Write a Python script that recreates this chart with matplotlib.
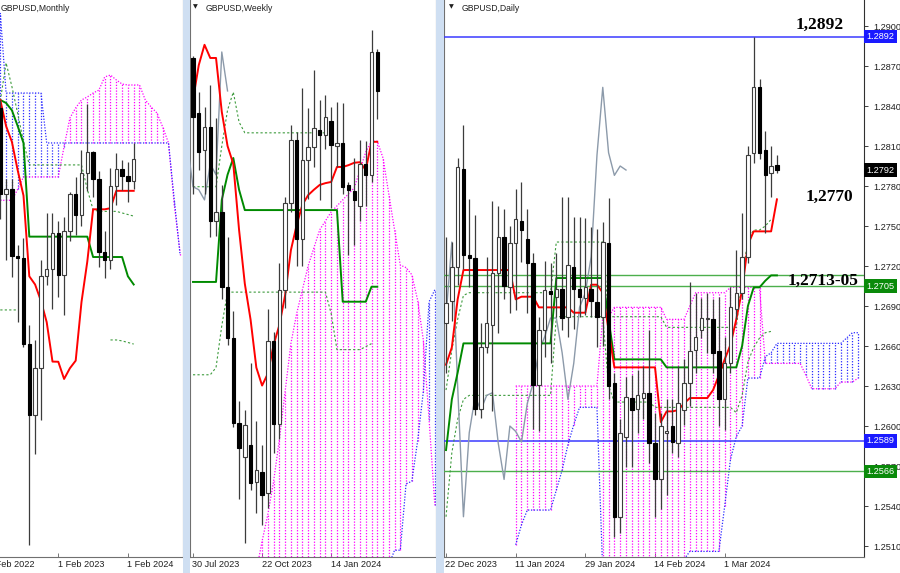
import numpy as np
import matplotlib
matplotlib.use("Agg")
import matplotlib.pyplot as plt
import matplotlib.transforms as mtransforms
from matplotlib.patches import Rectangle

nan = float("nan")
plt.rcParams['font.family'] = ['Liberation Sans', 'DejaVu Sans']

# ---------------- monthly bars: Apr 2022 .. Mar 2024 ----------------
m_open = [1.3117, 1.2573, 1.2602, 1.2177, 1.2166, 1.1623, 1.1169, 1.1468, 1.2053, 1.2097, 1.2322, 1.2055,
          1.2337, 1.2567, 1.2440, 1.2702, 1.2835, 1.2665, 1.2203, 1.2150, 1.2620, 1.2730, 1.2685, 1.2650]
m_high = [1.3167, 1.2667, 1.2666, 1.2247, 1.2293, 1.1738, 1.1645, 1.2154, 1.2447, 1.2448, 1.2402, 1.2424,
          1.2584, 1.2680, 1.2848, 1.3142, 1.2841, 1.2713, 1.2337, 1.2733, 1.2827, 1.2785, 1.2773, 1.2893]
m_low = [1.2411, 1.2155, 1.2042, 1.1760, 1.1599, 1.0350, 1.0924, 1.1142, 1.1992, 1.1841, 1.1915, 1.1803,
         1.2274, 1.2308, 1.2369, 1.2591, 1.2548, 1.2110, 1.2037, 1.2096, 1.2500, 1.2597, 1.2518, 1.2600]
m_close = [1.2573, 1.2602, 1.2177, 1.2166, 1.1623, 1.1169, 1.1468, 1.2053, 1.2097, 1.2322, 1.2055, 1.2337,
           1.2567, 1.2440, 1.2702, 1.2835, 1.2665, 1.2203, 1.2150, 1.2620, 1.2730, 1.2685, 1.2650, 1.2792]
m_tenkan = [1.3165, 1.3000, 1.2900, 1.2720, 1.2560, 1.2049, 1.1997, 1.1894, 1.1759, 1.1509, 1.1508, 1.1399,
            1.1467, 1.1515, 1.1886, 1.2142, 1.2473, 1.2473, 1.2473, 1.2480, 1.2590, 1.2590, 1.2590, 1.2590]
m_kijun = [1.3165, 1.3146, 1.3100, 1.3000, 1.2893, 1.2300, 1.2300, 1.2300, 1.2300, 1.2300, 1.2300, 1.2300,
           1.2300, 1.2300, 1.2300, 1.2300, 1.2171, 1.2171, 1.2171, 1.2171, 1.2171, 1.2171, 1.2049, 1.1997]
# cloud spans, Apr 2022 .. Nov 2024
m_span_a = [1.2530, 1.2530, 1.2530, 1.2600, 1.2678, 1.2678, 1.2678, 1.2678, 1.2678, 1.2678, 1.2678, 1.2870,
            1.3051, 1.3115, 1.3165, 1.3184, 1.3209, 1.3228, 1.3311, 1.3323, 1.3292, 1.3266, 1.3260, 1.3260,
            1.3260, 1.3165, 1.3121, 1.3083, 1.2994, 1.2893, 1.2500, 1.2200]
m_span_b = [1.3716, 1.3209, 1.3209, 1.3209, 1.3209, 1.3209, 1.3209, 1.3209, 1.2893, 1.2893, 1.2893, 1.2893,
            1.2893, 1.2893, 1.2893, 1.2893, 1.2893, 1.2893, 1.2893, 1.2893, 1.2893, 1.2893, 1.2893, 1.2893,
            1.2893, 1.2893, 1.2893, 1.2893, 1.2893, 1.2893, 1.2532, 1.2184]
m_dot_hi = [1.3160, 1.3400, 1.3250, 1.3080, 1.2900, 1.2754, 1.2754, 1.2754, 1.2754, 1.2754, 1.2754, 1.2754,
            1.2754, 1.2754, 1.2754, 1.2600, 1.2470, 1.2460, 1.2460, 1.2460, 1.2460, 1.2450, 1.2440, 1.2430]
m_dot_lo = [1.1836, 1.1836, 1.1836, 1.1836, nan, nan, nan, nan, nan, nan, nan, nan,
            nan, nan, nan, nan, nan, nan, nan, 1.1646, 1.1646, 1.1640, 1.1630, 1.1620]
m_dates = ["1 Feb 2022", "1 Feb 2023", "1 Feb 2024"]
m_date_pos = [-2, 10, 22]

# ---------------- weekly bars: 30 Jul 2023 .. 10 Mar 2024 ----------------
w_open = [1.2847, 1.2755, 1.2693, 1.2732, 1.2575, 1.2590, 1.2465, 1.2380, 1.2237, 1.2181, 1.2201, 1.2139,
          1.2156, 1.2121, 1.2375, 1.2235, 1.2460, 1.2605, 1.2710, 1.2545, 1.2677, 1.2698, 1.2727, 1.2718,
          1.2742, 1.2700, 1.2705, 1.2635, 1.2625, 1.2600, 1.2670, 1.2652, 1.2857]
w_high = [1.2850, 1.2790, 1.2765, 1.2802, 1.2746, 1.2635, 1.2548, 1.2425, 1.2275, 1.2260, 1.2337, 1.2240,
          1.2200, 1.2428, 1.2390, 1.2505, 1.2615, 1.2735, 1.2723, 1.2797, 1.2763, 1.2827, 1.2777, 1.2785,
          1.2765, 1.2773, 1.2772, 1.2640, 1.2680, 1.2710, 1.2708, 1.2893, 1.2862]
w_low = [1.2620, 1.2660, 1.2620, 1.2548, 1.2550, 1.2445, 1.2368, 1.2230, 1.2110, 1.2037, 1.2126, 1.2087,
         1.2067, 1.2096, 1.2187, 1.2210, 1.2430, 1.2590, 1.2500, 1.2500, 1.2612, 1.2665, 1.2610, 1.2695,
         1.2597, 1.2665, 1.2620, 1.2518, 1.2535, 1.2575, 1.2600, 1.2640, 1.2745]
w_close = [1.2748, 1.2690, 1.2732, 1.2575, 1.2590, 1.2465, 1.2380, 1.2237, 1.2196, 1.2234, 1.2137, 1.2159,
           1.2117, 1.2375, 1.2235, 1.2460, 1.2605, 1.2710, 1.2545, 1.2677, 1.2698, 1.2730, 1.2718, 1.2748,
           1.2702, 1.2705, 1.2632, 1.2627, 1.2610, 1.2670, 1.2652, 1.2857, 1.2792]
w_tenkan = [1.2777, 1.2835, 1.2869, 1.2847, 1.2847, 1.2757, 1.2700, 1.2670, 1.2560, 1.2470, 1.2410, 1.2330,
            1.2300, 1.2320, 1.2368, 1.2401, 1.2451, 1.2526, 1.2568, 1.2602, 1.2618, 1.2627, 1.2635, 1.2638,
            1.2640, 1.2665, 1.2665, 1.2668, 1.2672, 1.2673, 1.2660, 1.2707, 1.2707]
w_kijun = [1.2473, 1.2473, 1.2473, 1.2473, 1.2473, 1.2610, 1.2652, 1.2680, 1.2627, 1.2593, 1.2593, 1.2593,
           1.2593, 1.2593, 1.2593, 1.2593, 1.2593, 1.2593, 1.2593, 1.2593, 1.2593, 1.2593, 1.2593, 1.2593,
           1.2593, 1.2593, 1.2440, 1.2440, 1.2440, 1.2440, 1.2440, 1.2465, 1.2465]
w_span_a = [nan] * 11 + [1.1990, 1.2040, 1.2085, 1.2140, 1.2210, 1.2290, 1.2370, 1.2420, 1.2460, 1.2500,
                         1.2530, 1.2560, 1.2575, 1.2590, 1.2600, 1.2610, 1.2620, 1.2630, 1.2660, 1.2690,
                         1.2708, 1.2708, 1.2680, 1.2620, 1.2560, 1.2501, 1.2497, 1.2485, 1.2443, 1.2376,
                         1.2243, 1.2100]
w_span_b = [nan] * 11 + [1.1900, 1.1900, 1.1900, 1.1900, 1.1900, 1.1900, 1.1900, 1.1900, 1.1900, 1.1900,
                         1.1900, 1.1900, 1.1900, 1.1900, 1.1900, 1.1900, 1.1900, 1.1900, 1.1900, 1.1900,
                         1.1900, 1.1900, 1.1900, 1.2000, 1.2025, 1.2025, 1.2136, 1.2140, 1.2207, 1.2290,
                         1.2440, 1.2460]
w_dot_hi = [1.2632, 1.2632, 1.2632, 1.2632, 1.2632, 1.2700, 1.2760, 1.2790, 1.2740, 1.2722, 1.2722, 1.2722,
            1.2722, 1.2722, 1.2722, 1.2722, 1.2722, 1.2722, 1.2722, 1.2722, 1.2722, 1.2722, 1.2722, 1.2722,
            nan, nan, nan, nan, nan, nan, nan, nan, nan]
w_dot_lo = [1.2318, 1.2318, 1.2318, 1.2318, 1.2330, 1.2400, 1.2456, 1.2456, 1.2456, 1.2456, 1.2456, 1.2456,
            1.2456, 1.2456, 1.2456, 1.2456, 1.2456, 1.2456, 1.2456, 1.2456, 1.2456, 1.2456, 1.2456, 1.2456,
            1.2420, 1.2360, 1.2360, 1.2360, 1.2360, 1.2360, 1.2365, 1.2370, nan]
w_dates = ["30 Jul 2023", "22 Oct 2023", "14 Jan 2024"]
w_date_pos = [0, 12, 24]

# ---------------- daily bars: 22 Dec 2023 .. 14 Mar 2024 ----------------
d_open = [1.2677, 1.2694, 1.2719, 1.2793, 1.2728, 1.2726, 1.2613, 1.2659, 1.2676, 1.2715, 1.2742, 1.2704,
          1.2737, 1.2754, 1.2740, 1.2722, 1.2631, 1.2672, 1.2701, 1.2697, 1.2703, 1.2682, 1.2719, 1.2703,
          1.2696, 1.2703, 1.2693, 1.2682, 1.2737, 1.2632, 1.2532, 1.2592, 1.2621, 1.2613, 1.2621, 1.2625,
          1.2587, 1.2560, 1.2595, 1.2600, 1.2587, 1.2612, 1.2632, 1.2657, 1.2672, 1.2680, 1.2680, 1.2656,
          1.2620, 1.2647, 1.2688, 1.2700, 1.2727, 1.2805, 1.2854, 1.2807, 1.2790, 1.2796]
d_high = [1.2742, 1.2738, 1.2801, 1.2826, 1.2770, 1.2758, 1.2677, 1.2727, 1.2769, 1.2765, 1.2763, 1.2750,
          1.2778, 1.2783, 1.2763, 1.2730, 1.2682, 1.2724, 1.2722, 1.2730, 1.2772, 1.2772, 1.2757, 1.2757,
          1.2756, 1.2749, 1.2748, 1.2753, 1.2771, 1.2640, 1.2605, 1.2637, 1.2638, 1.2642, 1.2645, 1.2672,
          1.2610, 1.2610, 1.2620, 1.2620, 1.2645, 1.2650, 1.2708, 1.2700, 1.2696, 1.2700, 1.2695, 1.2697,
          1.2667, 1.2704, 1.2732, 1.2760, 1.2810, 1.2892, 1.2860, 1.2821, 1.2810, 1.2803]
d_low = [1.2640, 1.2679, 1.2706, 1.2718, 1.2704, 1.2608, 1.2606, 1.2655, 1.2611, 1.2670, 1.2695, 1.2685,
         1.2687, 1.2723, 1.2685, 1.2598, 1.2596, 1.2652, 1.2647, 1.2682, 1.2672, 1.2667, 1.2673, 1.2682,
         1.2683, 1.2682, 1.2659, 1.2660, 1.2620, 1.2517, 1.2520, 1.2569, 1.2569, 1.2595, 1.2605, 1.2572,
         1.2532, 1.2538, 1.2548, 1.2580, 1.2577, 1.2601, 1.2615, 1.2640, 1.2666, 1.2655, 1.2640, 1.2600,
         1.2597, 1.2640, 1.2680, 1.2695, 1.2722, 1.2797, 1.2800, 1.2745, 1.2772, 1.2790]
d_close = [1.2692, 1.2719, 1.2794, 1.2728, 1.2726, 1.2613, 1.2659, 1.2677, 1.2715, 1.2742, 1.2705, 1.2737,
           1.2755, 1.2747, 1.2722, 1.2631, 1.2672, 1.2702, 1.2699, 1.2703, 1.2681, 1.2721, 1.2703, 1.2697,
           1.2704, 1.2694, 1.2682, 1.2738, 1.2630, 1.2532, 1.2595, 1.2622, 1.2612, 1.2623, 1.2625, 1.2587,
           1.2560, 1.2600, 1.2596, 1.2588, 1.2617, 1.2632, 1.2656, 1.2667, 1.2681, 1.2681, 1.2655, 1.2620,
           1.2647, 1.2689, 1.2700, 1.2727, 1.2803, 1.2854, 1.2805, 1.2788, 1.2795, 1.2792]
d_tenkan = [1.2646, 1.2659, 1.2695, 1.2717, 1.2717, 1.2717, 1.2717, 1.2717, 1.2717, 1.2717, 1.2717, 1.2717,
            1.2695, 1.2697, 1.2697, 1.2697, 1.2689, 1.2689, 1.2689, 1.2689, 1.2689, 1.2689, 1.2685, 1.2685,
            1.2685, 1.2706, 1.2706, 1.2700, 1.2672, 1.2644, 1.2644, 1.2644, 1.2644, 1.2644, 1.2644, 1.2644,
            1.2644, 1.2603, 1.2611, 1.2611, 1.2612, 1.2617, 1.2621, 1.2621, 1.2621, 1.2621, 1.2627, 1.2638,
            1.2650, 1.2661, 1.2680, 1.2702, 1.2736, 1.2746, 1.2746, 1.2746, 1.2746, 1.2770]
d_kijun = [1.2582, 1.2620, 1.2640, 1.2662, 1.2662, 1.2662, 1.2662, 1.2662, 1.2662, 1.2662, 1.2662, 1.2662,
           1.2662, 1.2662, 1.2662, 1.2662, 1.2662, 1.2662, 1.2662, 1.2711, 1.2711, 1.2711, 1.2711, 1.2711,
           1.2711, 1.2711, 1.2711, 1.2711, 1.2680, 1.2650, 1.2650, 1.2650, 1.2650, 1.2650, 1.2650, 1.2650,
           1.2650, 1.2650, 1.2644, 1.2644, 1.2644, 1.2644, 1.2644, 1.2644, 1.2644, 1.2644, 1.2644, 1.2644,
           1.2644, 1.2644, 1.2644, 1.2660, 1.2690, 1.2704, 1.2704, 1.2709, 1.2713, 1.2713]
d_dot_hi = [1.2627, 1.2657, 1.2680, 1.2698, 1.2700, 1.2700, 1.2700, 1.2700, 1.2700, 1.2700, 1.2700, 1.2700,
            1.2700, 1.2700, 1.2700, 1.2700, 1.2700, 1.2700, 1.2700, 1.2738, 1.2738, 1.2738, 1.2738, 1.2738,
            1.2738, 1.2738, 1.2738, 1.2738, 1.2682, 1.2682, 1.2682, 1.2682, 1.2682, 1.2682, 1.2682, 1.2682,
            1.2682, 1.2682, 1.2674, 1.2674, 1.2674, 1.2674, 1.2674, 1.2674, 1.2674, 1.2674, 1.2674, 1.2674,
            1.2674, 1.2674, 1.2674, 1.2710, 1.2740, 1.2747, 1.2747, 1.2750, 1.2755, nan]
d_dot_lo = [1.2532, 1.2580, 1.2605, 1.2620, 1.2623, 1.2623, 1.2623, 1.2623, 1.2623, 1.2623, 1.2623, 1.2623,
            1.2623, 1.2623, 1.2623, 1.2623, 1.2623, 1.2623, 1.2623, 1.2682, 1.2682, 1.2682, 1.2682, 1.2682,
            1.2682, 1.2682, 1.2682, 1.2682, 1.2630, 1.2618, 1.2618, 1.2618, 1.2618, 1.2618, 1.2618, 1.2618,
            1.2614, 1.2614, 1.2614, 1.2614, 1.2614, 1.2614, 1.2614, 1.2614, 1.2614, 1.2614, 1.2614, 1.2614,
            1.2614, 1.2614, 1.2610, 1.2623, 1.2648, 1.2659, 1.2666, 1.2670, 1.2671, nan]
# cloud spans, 22 Dec 2023 .. 26 bars past the last bar (visible part)
d_span_a = [nan] * 12 + [1.2630, 1.2630, 1.2630, 1.2630, 1.2630, 1.2630, 1.2630, 1.2630, 1.2630, 1.2630,
                         1.2630, 1.2630, 1.2630, 1.2630, 1.2630, 1.2682, 1.2682, 1.2689, 1.2689, 1.2689,
                         1.2689, 1.2689, 1.2689, 1.2689, 1.2689, 1.2689, 1.2680, 1.2680, 1.2680, 1.2680,
                         1.2690, 1.2700, 1.2700, 1.2700, 1.2700, 1.2700, 1.2700, 1.2704, 1.2704, 1.2704,
                         1.2704, 1.2704, 1.2704, 1.2647, 1.2647, 1.2647, 1.2647, 1.2647, 1.2647, 1.2647,
                         1.2638, 1.2628, 1.2628, 1.2628, 1.2628, 1.2628, 1.2633, 1.2633, 1.2633, 1.2636]
d_span_b = [nan] * 12 + [1.2511, 1.2526, 1.2537, 1.2537, 1.2537, 1.2537, 1.2537, 1.2552, 1.2567, 1.2586,
                         1.2601, 1.2614, 1.2614, 1.2614, 1.2614, 1.2490, 1.2490, 1.2490, 1.2490, 1.2490,
                         1.2490, 1.2490, 1.2490, 1.2490, 1.2490, 1.2490, 1.2490, 1.2490, 1.2490, 1.2500,
                         1.2506, 1.2506, 1.2506, 1.2506, 1.2506, 1.2506, 1.2540, 1.2575, 1.2592, 1.2600,
                         1.2636, 1.2636, 1.2636, 1.2652, 1.2655, 1.2662, 1.2662, 1.2662, 1.2662, 1.2662,
                         1.2662, 1.2662, 1.2662, 1.2662, 1.2662, 1.2662, 1.2662, 1.2666, 1.2670, 1.2670]
d_dates = ["22 Dec 2023", "11 Jan 2024", "29 Jan 2024", "14 Feb 2024", "1 Mar 2024"]
d_date_pos = [0, 12, 24, 36, 48]
d_levels_blue = [1.2892, 1.2589]
d_levels_green = [1.2713, 1.2705, 1.2566]
d_yticks = [1.2900, 1.2870, 1.2840, 1.2810, 1.2780, 1.2750, 1.2720, 1.2690, 1.2660, 1.2630, 1.2600,
            1.2570, 1.2540, 1.2510]
price_now = 1.2792
notes = ['1,2892', '1,2770', '1,2713-05']
note_pos = [(64.4, 1.29005), (66.1, 1.2772), (64.9, 1.2709)]

# ---------------- drawing ----------------
W, H = 900, 573
fig = plt.figure(figsize=(W / 100, H / 100), dpi=100)

MAG = '#ff00ff'
BLU = '#2a2aff'
DOT = (0, (1, 1.3))
GDOT = '#3d9b3d'


def add_px_axes(x0, x1, y0, y1):
    return fig.add_axes([x0 / W, 1 - y1 / H, (x1 - x0) / W, (y1 - y0) / H])


def draw_candles(ax, o, h, l, c):
    o, h, l, c = map(np.asarray, (o, h, l, c))
    x = np.arange(len(o))
    ax.vlines(x, l, h, color='#3c3c3c', lw=0.9, zorder=6)
    up = c >= o
    ax.bar(x[up], (c - o)[up], bottom=o[up], width=0.6, color='white',
           edgecolor='#3c3c3c', lw=0.8, zorder=7)
    ax.bar(x[~up], (o - c)[~up], bottom=c[~up], width=0.6, color='black',
           edgecolor='black', lw=0.8, zorder=7)


def draw_cloud(ax, a, b):
    a = np.asarray(a, float)
    b = np.asarray(b, float)
    x = np.arange(len(a))
    ok = np.isfinite(a) & np.isfinite(b)
    m = ok & (a >= b)
    n = ok & (a < b)
    ax.vlines(x[m], b[m], a[m], colors=MAG, linestyles=DOT, lw=0.9, zorder=2)
    ax.vlines(x[n], a[n], b[n], colors=BLU, linestyles=DOT, lw=0.9, zorder=2)
    ax.plot(x, a, color=MAG, ls=DOT, lw=0.9, zorder=2)
    ax.plot(x, b, color=BLU, ls=DOT, lw=0.9, zorder=2)


def draw_lines(ax, tenkan, kijun, dot_hi, dot_lo):
    ax.plot(np.arange(len(dot_hi)), dot_hi, color=GDOT, ls=(0, (2, 2)), lw=0.8, zorder=3)
    ax.plot(np.arange(len(dot_lo)), dot_lo, color=GDOT, ls=(0, (2, 2)), lw=0.8, zorder=3)
    ax.plot(np.arange(len(kijun)), kijun, color='#008a00', lw=1.4, zorder=5)
    ax.plot(np.arange(len(tenkan)), tenkan, color='#ff0000', lw=1.4, zorder=5)


def style_panel(ax, xlim, ylim, title, dates, pos, marker=True):
    ax.set_xlim(*xlim)
    ax.set_ylim(*ylim)
    ax.set_yticks([])
    ax.set_xticks([p for p in pos if xlim[0] <= p <= xlim[1]])
    ax.tick_params(axis='x', direction='in', length=3, width=0.6, labelbottom=False, color='#606060')
    for s in ax.spines.values():
        s.set_color('#707070')
        s.set_linewidth(0.8)
    ax.spines['top'].set_visible(False)
    trans = ax.get_xaxis_transform() + mtransforms.ScaledTranslation(0, -2.5 / 72, fig.dpi_scale_trans)
    for d, p in zip(dates, pos):
        ax.text(p - 0.1, 0, d, transform=trans, ha='left', va='top', fontsize=6.6,
                color='#202020', clip_on=False)
    if marker:
        ax.text(0.012, 0.992, '\u25bc', transform=ax.transAxes, fontsize=4.5, va='top', ha='left',
                family='DejaVu Sans', color='#202020')
        tx = 0.012 + 13 / ax.bbox.width
    else:
        tx = 0.005
    ax.text(tx, 0.993, title, transform=ax.transAxes, fontsize=6.2,
            va='top', ha='left', color='#202020')


# window separators
for x0, x1 in [(183, 190), (436, 444)]:
    fig.patches.append(Rectangle((x0 / W, 0), (x1 - x0) / W, 1, transform=fig.transFigure,
                                 facecolor='#cfdff2', edgecolor='none', zorder=0))

# ---- monthly panel ----
axm = add_px_axes(0, 183, 0, 557)
draw_cloud(axm, m_span_a, m_span_b)
draw_lines(axm, m_tenkan, m_kijun, m_dot_hi, m_dot_lo)
draw_candles(axm, m_open, m_high, m_low, m_close)
style_panel(axm, (-0.05, 31.5), (1.0272, 1.3798), 'GBPUSD,Monthly', m_dates, m_date_pos, marker=False)
axm.spines['left'].set_visible(False)

# ---- weekly panel ----
axw = add_px_axes(190, 436, 0, 557)
draw_cloud(axw, w_span_a, w_span_b)
axw.plot(np.arange(len(w_close)) - 26, w_close, color='#8c9aaa', lw=1.0, zorder=4)
draw_lines(axw, w_tenkan, w_kijun, w_dot_hi, w_dot_lo)
draw_candles(axw, w_open, w_high, w_low, w_close)
style_panel(axw, (-0.52, 42.2), (1.20137, 1.29438), 'GBPUSD,Weekly', w_dates, w_date_pos)

# ---- daily panel ----
axd = add_px_axes(444, 864, 0, 557)
draw_cloud(axd, d_span_a, d_span_b)
axd.plot(np.arange(len(d_close)) - 26, d_close, color='#8c9aaa', lw=1.0, zorder=4)
for lv in d_levels_green:
    axd.axhline(lv, color='#4caf4c', lw=1.0, zorder=3)
for lv in d_levels_blue:
    axd.axhline(lv, color='#3a3aff', lw=1.1, zorder=3)
draw_lines(axd, d_tenkan, d_kijun, d_dot_hi, d_dot_lo)
draw_candles(axd, d_open, d_high, d_low, d_close)
style_panel(axd, (-0.35, 72.0), (1.25018, 1.29195), 'GBPUSD,Daily', d_dates, d_date_pos)
axd.yaxis.tick_right()
axd.set_yticks(d_yticks)
axd.set_yticklabels(['%.4f' % v for v in d_yticks])
axd.tick_params(axis='y', direction='out', length=3, width=0.6, labelsize=6.6, pad=4,
                colors='#202020')
axd.spines['right'].set_color('#303030')

ytr = axd.get_yaxis_transform()
for lv, fc in [(1.2892, '#1a1aff'), (price_now, 'black'), (1.2705, '#0a8a0a'),
               (1.2589, '#1a1aff'), (1.2566, '#0a8a0a')]:
    axd.text(1.006, lv, '%.4f' % lv, transform=ytr, ha='left', va='center', fontsize=6.6,
             color='white', zorder=10, clip_on=False,
             bbox=dict(boxstyle='square,pad=0.25', fc=fc, ec='none'))

for txt, (xi, yv) in zip(notes, note_pos):
    axd.text(xi, yv, txt, fontsize=12.5, fontweight='bold', family='Liberation Serif',
             ha='center', va='center', color='black', zorder=11)

fig.savefig('out.png', dpi=100)
